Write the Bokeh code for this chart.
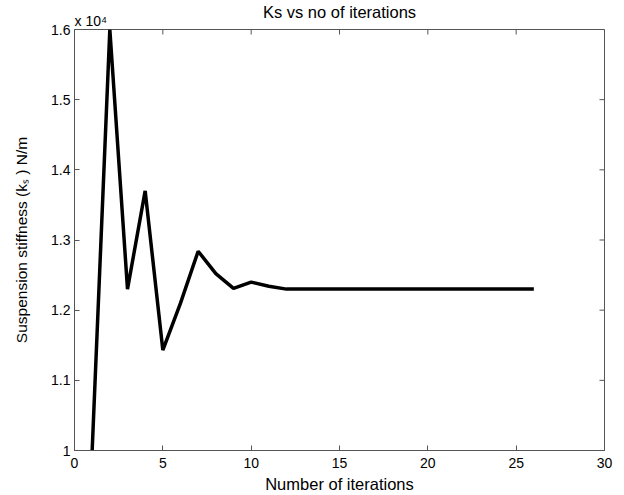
import math
from bokeh.plotting import figure
from bokeh.models import (FixedTicker, CustomJSTickFormatter, Title, Range1d)
from bokeh.embed import file_html
from bokeh.resources import INLINE

# ---- data ----
iterations = list(range(1, 27))
ks_values = [10000, 16000, 12300, 13700, 11430, 12100, 12840, 12520, 12310, 12400,
             12340, 12300, 12300, 12300, 12300, 12300, 12300, 12300, 12300, 12300,
             12300, 12300, 12300, 12300, 12300, 12300]
x_ticks = [0, 5, 10, 15, 20, 25, 30]
y_ticks = [10000, 11000, 12000, 13000, 14000, 15000, 16000]

title_text = "Ks vs no of iterations"
exponent_text = "x 10\u2074"
x_label = "Number of iterations"
y_label = "Suspension stiffness (k\u209b ) N/m"

FONT = "Liberation Sans"
AXIS_COLOR = "#555555"

p = figure(width=624, height=495, output_backend="svg",
           toolbar_location=None,
           x_range=Range1d(x_ticks[0], x_ticks[-1]),
           y_range=Range1d(y_ticks[0], y_ticks[-1]),
           min_border_left=74, min_border_right=20,
           min_border_top=29, min_border_bottom=45)
p.outline_line_color = AXIS_COLOR
p.outline_line_width = 1
p.grid.visible = False
p.background_fill_color = "white"
p.border_fill_color = "white"

p.title.text = title_text
p.title.text_font = FONT
p.title.text_font_size = "16.5px"
p.title.text_font_style = "normal"
p.title.text_color = "black"
p.title.align = "center"
p.title.standoff = -20

p.add_layout(Title(text=exponent_text, align="left", text_font=FONT,
                   text_font_size="14px", text_font_style="normal",
                   text_color="black", standoff=1), "above")

p.line(iterations, ks_values, line_color="black", line_width=3.5)

# inward ticks on the top and right edges of the box
p.scatter(x_ticks, [y_ticks[-1]] * len(x_ticks), marker="dash", size=10,
          angle=math.pi / 2, line_color=AXIS_COLOR, line_width=1)
p.scatter([x_ticks[-1]] * len(y_ticks), y_ticks, marker="dash", size=10,
          line_color=AXIS_COLOR, line_width=1)

yfmt = CustomJSTickFormatter(code="return String(Math.round(tick/1000)/10);")

def style(ax):
    ax.axis_line_color = AXIS_COLOR
    ax.major_tick_line_color = AXIS_COLOR
    ax.major_tick_in = 5
    ax.major_tick_out = 0
    ax.minor_tick_line_color = None
    ax.major_label_text_font = FONT
    ax.major_label_text_color = "black"
    ax.major_label_text_font_size = "14px"
    ax.axis_label_text_font = FONT
    ax.axis_label_text_font_style = "normal"
    ax.axis_label_text_color = "black"

xa = p.xaxis[0]
xa.ticker = FixedTicker(ticks=x_ticks)
xa.axis_label = x_label
style(xa)
xa.axis_label_text_font_size = "16.5px"
xa.major_label_standoff = 7
xa.axis_label_standoff = 4

ya = p.yaxis[0]
ya.ticker = FixedTicker(ticks=y_ticks)
ya.formatter = yfmt
ya.axis_label = y_label
style(ya)
ya.axis_label_text_font_size = "15.5px"
ya.major_label_standoff = 4
ya.axis_label_standoff = 18

open("out.html", "w").write(file_html(p, INLINE))
